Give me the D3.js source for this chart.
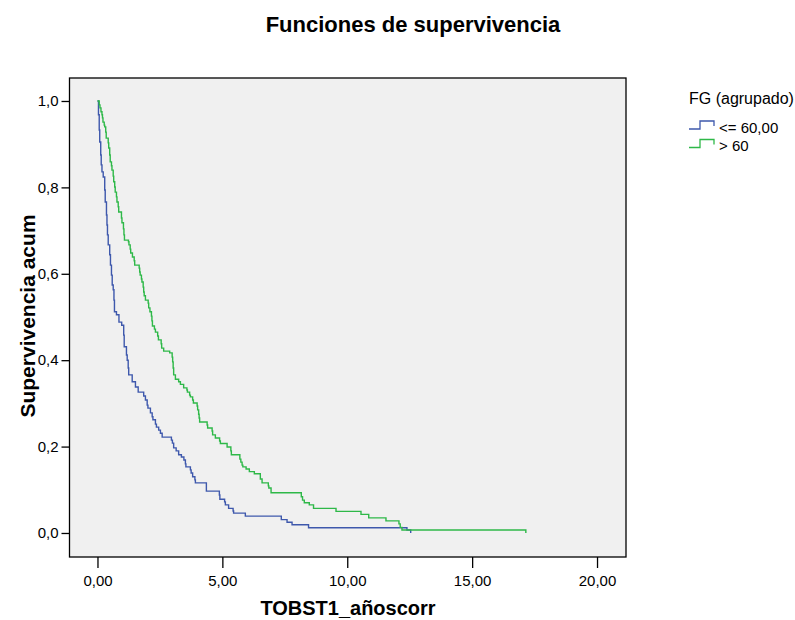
<!DOCTYPE html>
<html><head><meta charset="utf-8">
<script src="https://cdn.jsdelivr.net/npm/d3@7"></script>
<style>
html,body{margin:0;padding:0;background:#fff;}
text{font-family:"Liberation Sans",Arial,sans-serif;}
</style></head>
<body>
<svg id="chart" width="795" height="620"></svg>
<script>
// ---- data ----
const title = "Funciones de supervivencia";
const xLabel = "TOBST1_añoscorr";
const yLabel = "Supervivencia acum";
const legendTitle = "FG (agrupado)";
const seriesNames = ["<= 60,00", "> 60"];
const xTicks = [0, 5, 10, 15, 20];
const yTicks = [0, 0.2, 0.4, 0.6, 0.8, 1.0];

// group "<= 60,00": event times and survival after each event
const timesLow = [0, 0.04, 0.07, 0.09, 0.13, 0.15, 0.18, 0.23, 0.29, 0.31, 0.36, 0.38, 0.40, 0.43, 0.49, 0.52, 0.56, 0.59, 0.63, 0.66, 0.68, 0.76, 0.86, 0.97, 1.05, 1.07, 1.16, 1.19, 1.23, 1.25, 1.39, 1.52, 1.63, 1.85, 1.92, 1.99, 2.02, 2.12, 2.19, 2.22, 2.32, 2.36, 2.45, 2.52, 2.59, 2.96, 3.00, 3.05, 3.15, 3.25, 3.36, 3.46, 3.52, 3.54, 3.72, 3.75, 3.81, 3.90, 3.92, 4.36, 4.88, 4.90, 5.09, 5.12, 5.25, 5.43, 5.45, 5.92, 7.36, 7.59, 7.79, 8.45, 12.39, 12.54];
const survLow = [1, 0.968, 0.933, 0.905, 0.875, 0.852, 0.836, 0.824, 0.794, 0.766, 0.736, 0.713, 0.690, 0.667, 0.644, 0.620, 0.597, 0.574, 0.563, 0.539, 0.512, 0.505, 0.488, 0.481, 0.458, 0.431, 0.412, 0.400, 0.382, 0.366, 0.350, 0.338, 0.326, 0.317, 0.308, 0.296, 0.289, 0.278, 0.269, 0.262, 0.252, 0.245, 0.238, 0.231, 0.222, 0.215, 0.208, 0.197, 0.190, 0.181, 0.176, 0.169, 0.160, 0.153, 0.146, 0.139, 0.130, 0.123, 0.116, 0.097, 0.088, 0.078, 0.072, 0.065, 0.057, 0.051, 0.046, 0.039, 0.031, 0.025, 0.019, 0.012, 0.007, 0];

// group "> 60"
const timesHigh = [0, 0.07, 0.10, 0.14, 0.18, 0.20, 0.22, 0.27, 0.29, 0.33, 0.35, 0.43, 0.45, 0.49, 0.51, 0.56, 0.58, 0.63, 0.65, 0.69, 0.71, 0.76, 0.78, 0.83, 0.85, 0.96, 0.98, 1.04, 1.06, 1.08, 1.24, 1.26, 1.31, 1.33, 1.40, 1.47, 1.49, 1.67, 1.69, 1.71, 1.76, 1.78, 1.83, 1.85, 1.87, 1.92, 2.03, 2.05, 2.10, 2.16, 2.18, 2.20, 2.28, 2.32, 2.41, 2.44, 2.55, 2.57, 2.65, 2.89, 2.99, 3.01, 3.03, 3.05, 3.12, 3.25, 3.32, 3.45, 3.58, 3.60, 3.69, 3.72, 3.81, 3.84, 3.99, 4.01, 4.05, 4.07, 4.09, 4.39, 4.41, 4.59, 4.61, 4.72, 4.89, 4.92, 5.19, 5.34, 5.36, 5.70, 5.74, 5.79, 5.82, 5.95, 6.08, 6.28, 6.52, 6.59, 6.84, 6.86, 6.95, 8.16, 8.21, 8.28, 8.48, 8.65, 9.55, 10.55, 10.86, 11.55, 12.07, 12.12, 12.19, 17.15];
const survHigh = [1, 0.991, 0.984, 0.975, 0.968, 0.961, 0.951, 0.944, 0.940, 0.928, 0.914, 0.903, 0.891, 0.875, 0.859, 0.850, 0.840, 0.826, 0.813, 0.801, 0.789, 0.778, 0.766, 0.755, 0.743, 0.729, 0.718, 0.704, 0.690, 0.678, 0.674, 0.667, 0.657, 0.648, 0.639, 0.630, 0.620, 0.613, 0.604, 0.597, 0.588, 0.581, 0.569, 0.558, 0.549, 0.539, 0.532, 0.521, 0.512, 0.502, 0.491, 0.479, 0.472, 0.465, 0.456, 0.447, 0.438, 0.428, 0.421, 0.417, 0.407, 0.396, 0.382, 0.366, 0.356, 0.350, 0.344, 0.336, 0.331, 0.326, 0.319, 0.315, 0.308, 0.301, 0.294, 0.285, 0.275, 0.266, 0.257, 0.250, 0.243, 0.236, 0.227, 0.220, 0.213, 0.207, 0.199, 0.190, 0.181, 0.171, 0.164, 0.157, 0.153, 0.148, 0.142, 0.137, 0.125, 0.116, 0.109, 0.104, 0.093, 0.084, 0.076, 0.070, 0.065, 0.057, 0.050, 0.043, 0.035, 0.028, 0.021, 0.013, 0.007, 0];

const colors = ["#3E58AC", "#2EB848"];

// ---- drawing ----
const svg = d3.select("#chart");
const frame = {left: 69.5, right: 626, top: 78, bottom: 557};

const x = d3.scaleLinear().domain([-1.12, 21.16]).range([frame.left, frame.right]);
const y = d3.scaleLinear().domain([-0.0556, 1.0532]).range([frame.bottom, frame.top]);

svg.append("rect")
  .attr("x", frame.left).attr("y", frame.top)
  .attr("width", frame.right - frame.left).attr("height", frame.bottom - frame.top)
  .attr("fill", "#f0f0f0").attr("stroke", "#000").attr("stroke-width", 1.3);

const fmtX = d => d.toFixed(2).replace(".", ",");
const fmtY = d => d.toFixed(1).replace(".", ",");

const xAxis = svg.append("g")
  .attr("transform", `translate(0,${frame.bottom})`)
  .call(d3.axisBottom(x).tickValues(xTicks).tickFormat(fmtX).tickSize(11).tickPadding(7));
const yAxis = svg.append("g")
  .attr("transform", `translate(${frame.left},0)`)
  .call(d3.axisLeft(y).tickValues(yTicks).tickFormat(fmtY).tickSize(8).tickPadding(3));
[xAxis, yAxis].forEach(g => {
  g.select(".domain").remove();
  g.selectAll(".tick line").attr("stroke", "#000").attr("stroke-width", 1.3);
  g.selectAll(".tick text").attr("fill", "#000")
    .style("font-family", '"Liberation Sans", Arial, sans-serif').style("font-size", "15px");
});

const line = d3.line().x(d => x(d[0])).y(d => y(d[1])).curve(d3.curveStepAfter);
const series = [d3.zip(timesLow, survLow), d3.zip(timesHigh, survHigh)];
series.forEach((pts, i) => {
  svg.append("path").datum(pts)
    .attr("d", line).attr("fill", "none")
    .attr("stroke", colors[i]).attr("stroke-width", 1.4);
});

// titles
svg.append("text").attr("x", 413).attr("y", 32).attr("text-anchor", "middle")
  .style("font-size", "22px").style("font-weight", "bold").text(title);
svg.append("text").attr("x", 348).attr("y", 615).attr("text-anchor", "middle")
  .style("font-size", "20px").style("font-weight", "bold").text(xLabel);
svg.append("text").attr("transform", "translate(35,316) rotate(-90)").attr("text-anchor", "middle")
  .style("font-size", "21px").style("font-weight", "bold").text(yLabel);

// legend
svg.append("text").attr("x", 689).attr("y", 104).style("font-size", "16px").text(legendTitle);
seriesNames.forEach((name, i) => {
  const cy = 127 + i * 18.5;
  svg.append("path")
    .attr("d", `M689,${cy + 2}H700V${cy - 6}H714V${cy - 1}`)
    .attr("fill", "none").attr("stroke", colors[i]).attr("stroke-width", 1.3);
  svg.append("text").attr("x", 719).attr("y", cy + 5.5).style("font-size", "15px").text(name);
});
</script>
</body></html>
